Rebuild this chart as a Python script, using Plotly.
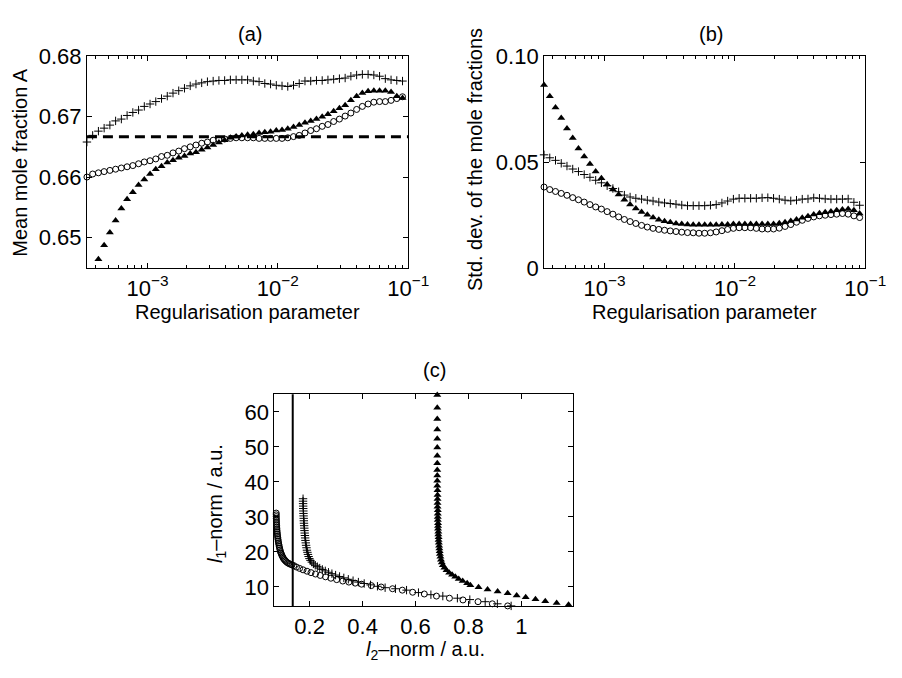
import plotly.graph_objects as go

# ---------------- data ----------------
# log10 of the regularisation parameter grid
LOG_LAMBDA = [-3.464, -3.420, -3.376, -3.332, -3.288, -3.244, -3.200, -3.156, -3.112, -3.068,
              -3.024, -2.980, -2.936, -2.892, -2.848, -2.804, -2.760, -2.716, -2.672, -2.628,
              -2.584, -2.540, -2.496, -2.452, -2.408, -2.364, -2.320, -2.276, -2.232, -2.188,
              -2.144, -2.100, -2.056, -2.012, -1.968, -1.924, -1.880, -1.836, -1.792, -1.748,
              -1.704, -1.660, -1.616, -1.572, -1.528, -1.484, -1.440, -1.396, -1.352, -1.308,
              -1.264, -1.220, -1.176, -1.132, -1.088, -1.044, -1.000]
LAMBDA = [10 ** e for e in LOG_LAMBDA]

TRUE_FRACTION = 2 / 3

# (a) mean mole fraction A
mean_plus = [0.6658, 0.6669, 0.6676, 0.6681, 0.6686, 0.6693, 0.6696, 0.6702, 0.6707, 0.6711,
             0.6717, 0.6721, 0.6725, 0.6730, 0.6734, 0.6739, 0.6743, 0.6747, 0.6751, 0.6754,
             0.6756, 0.6758, 0.6759, 0.6760, 0.6760, 0.6761, 0.6761, 0.6761, 0.6761, 0.6759,
             0.6758, 0.6755, 0.6754, 0.6752, 0.6751, 0.6750, 0.6752, 0.6755, 0.6759, 0.6759,
             0.6760, 0.6760, 0.6761, 0.6762, 0.6763, 0.6764, 0.6767, 0.6769, 0.6770, 0.6770,
             0.6769, 0.6767, 0.6763, 0.6761, 0.6760, 0.6759, 0.6758]
mean_circle = [0.6600, 0.6605, 0.6607, 0.6609, 0.6611, 0.6613, 0.6615, 0.6617, 0.6619, 0.6622,
               0.6625, 0.6627, 0.6630, 0.6634, 0.6636, 0.6640, 0.6643, 0.6647, 0.6650, 0.6653,
               0.6656, 0.6658, 0.6661, 0.6662, 0.6663, 0.6664, 0.6665, 0.6665, 0.6665, 0.6665,
               0.6664, 0.6664, 0.6664, 0.6664, 0.6664, 0.6665, 0.6667, 0.6669, 0.6673, 0.6677,
               0.6680, 0.6684, 0.6687, 0.6692, 0.6696, 0.6701, 0.6706, 0.6712, 0.6717, 0.6721,
               0.6724, 0.6725, 0.6725, 0.6727, 0.6730, 0.6733, 0.6731]
mean_tri = [None, None, 0.6464, 0.6487, 0.6508, 0.6528, 0.6548, 0.6563, 0.6575, 0.6587,
            0.6596, 0.6605, 0.6613, 0.6618, 0.6624, 0.6628, 0.6632, 0.6635, 0.6639, 0.6641,
            0.6645, 0.6649, 0.6653, 0.6657, 0.6661, 0.6665, 0.6667, 0.6669, 0.6670, 0.6671,
            0.6673, 0.6674, 0.6675, 0.6677, 0.6678, 0.6680, 0.6683, 0.6686, 0.6690, 0.6693,
            0.6696, 0.6700, 0.6704, 0.6709, 0.6714, 0.6719, 0.6727, 0.6734, 0.6739, 0.6742,
            0.6743, 0.6743, 0.6743, 0.6741, 0.6734, 0.6731, 0.6722]

# (b) standard deviation of the mole fractions
std_plus = [0.0535, 0.0521, 0.0509, 0.0495, 0.0482, 0.0468, 0.0456, 0.0442, 0.0429, 0.0415,
            0.0403, 0.0389, 0.0376, 0.0361, 0.0345, 0.0336, 0.0330, 0.0326, 0.0321, 0.0317,
            0.0312, 0.0308, 0.0305, 0.0302, 0.0298, 0.0295, 0.0295, 0.0295, 0.0295, 0.0297,
            0.0300, 0.0308, 0.0317, 0.0326, 0.0330, 0.0330, 0.0330, 0.0330, 0.0332, 0.0333,
            0.0330, 0.0326, 0.0321, 0.0318, 0.0321, 0.0326, 0.0327, 0.0332, 0.0330, 0.0327,
            0.0326, 0.0326, 0.0326, 0.0327, 0.0311, 0.0297, 0.0285]
std_circle = [0.0383, 0.0371, 0.0362, 0.0353, 0.0344, 0.0333, 0.0323, 0.0312, 0.0300, 0.0289,
              0.0279, 0.0267, 0.0255, 0.0242, 0.0230, 0.0220, 0.0211, 0.0202, 0.0194, 0.0188,
              0.0183, 0.0179, 0.0176, 0.0173, 0.0170, 0.0168, 0.0167, 0.0165, 0.0165, 0.0167,
              0.0171, 0.0177, 0.0183, 0.0188, 0.0191, 0.0191, 0.0191, 0.0188, 0.0185, 0.0185,
              0.0185, 0.0189, 0.0197, 0.0206, 0.0217, 0.0226, 0.0235, 0.0242, 0.0247, 0.0250,
              0.0253, 0.0255, 0.0258, 0.0255, 0.0247, 0.0239, 0.0224]
std_tri = [0.0864, 0.0811, 0.0758, 0.0709, 0.0659, 0.0614, 0.0565, 0.0527, 0.0492, 0.0456,
           0.0424, 0.0395, 0.0371, 0.0348, 0.0323, 0.0300, 0.0282, 0.0265, 0.0252, 0.0239,
           0.0229, 0.0221, 0.0217, 0.0211, 0.0208, 0.0206, 0.0205, 0.0205, 0.0205, 0.0205,
           0.0205, 0.0206, 0.0206, 0.0208, 0.0208, 0.0208, 0.0208, 0.0208, 0.0208, 0.0209,
           0.0209, 0.0212, 0.0217, 0.0223, 0.0230, 0.0238, 0.0245, 0.0253, 0.0259, 0.0264,
           0.0268, 0.0273, 0.0277, 0.0279, 0.0273, 0.0258, 0.0227]

# (c) L-curves: l2-norm (x) vs l1-norm (y)
lc_circle_x = [0.0736, 0.0737, 0.0738, 0.0740, 0.0742, 0.0745, 0.0748, 0.0752, 0.0756, 0.0761,
               0.0766, 0.0772, 0.0779, 0.0787, 0.0795, 0.0804, 0.0814, 0.0825, 0.0837, 0.0850,
               0.0864, 0.0880, 0.0897, 0.0916, 0.0937, 0.0960, 0.0985, 0.1013, 0.1045, 0.1080,
               0.1120, 0.1165, 0.1215, 0.1270, 0.1330, 0.1400, 0.1500, 0.1620, 0.1750, 0.1900,
               0.2050, 0.2220, 0.2400, 0.2600, 0.2800, 0.3020, 0.3250, 0.3480, 0.3720, 0.3960,
               0.4330, 0.4700, 0.5130, 0.5500, 0.5890, 0.6330, 0.6790, 0.7280, 0.7790, 0.8360,
               0.8900, 0.9480]
lc_circle_y = [31.1, 30.6, 30.1, 29.6, 29.1, 28.6, 28.1, 27.6, 27.1, 26.6,
               26.1, 25.6, 25.1, 24.6, 24.1, 23.6, 23.1, 22.6, 22.1, 21.6,
               21.1, 20.6, 20.1, 19.7, 19.3, 18.9, 18.5, 18.1, 17.8, 17.5,
               17.2, 16.9, 16.7, 16.5, 16.3, 16.1, 15.7, 15.3, 14.9, 14.5,
               14.1, 13.7, 13.3, 12.9, 12.5, 12.1, 11.7, 11.4, 11.1, 10.8,
               10.4, 10.0, 9.5, 9.1, 8.5, 8.0, 7.4, 6.8, 6.3, 5.8,
               5.2, 4.6]
lc_plus_x = [0.1750, 0.1750, 0.1752, 0.1755, 0.1758, 0.1762, 0.1766, 0.1770, 0.1775, 0.1780,
             0.1785, 0.1791, 0.1798, 0.1805, 0.1812, 0.1820, 0.1830, 0.1840, 0.1852, 0.1865,
             0.1880, 0.1897, 0.1915, 0.1935, 0.1960, 0.1990, 0.2030, 0.2080, 0.2140, 0.2210,
             0.2290, 0.2380, 0.2480, 0.2590, 0.2710, 0.2840, 0.2980, 0.3130, 0.3290, 0.3460,
             0.3640, 0.3840, 0.4060, 0.4300, 0.4560, 0.4850, 0.5240, 0.5660, 0.6110, 0.6580,
             0.7030, 0.7580, 0.8050, 0.8630, 0.9090, 0.9610]
lc_plus_y = [35.2, 34.5, 33.8, 33.1, 32.4, 31.7, 31.0, 30.3, 29.6, 28.9,
             28.2, 27.5, 26.8, 26.1, 25.4, 24.7, 24.0, 23.3, 22.6, 21.9,
             21.2, 20.5, 19.9, 19.3, 18.7, 18.1, 17.6, 17.1, 16.6, 16.2,
             15.8, 15.4, 15.0, 14.6, 14.2, 13.8, 13.4, 13.0, 12.6, 12.2,
             11.8, 11.4, 11.0, 10.6, 10.2, 9.8, 9.5, 9.1, 8.4, 7.8,
             7.4, 6.8, 6.4, 5.8, 5.2, 4.6]
lc_tri_x = [0.682, 0.682, 0.682, 0.682, 0.682, 0.682, 0.682, 0.682, 0.682, 0.682,
            0.682, 0.682, 0.683, 0.683, 0.683, 0.683, 0.683, 0.684, 0.684, 0.684,
            0.684, 0.685, 0.685, 0.685, 0.686, 0.686, 0.687, 0.687, 0.688, 0.689,
            0.690, 0.691, 0.692, 0.694, 0.696, 0.699, 0.703, 0.709, 0.717, 0.727,
            0.738, 0.750, 0.763, 0.778, 0.795, 0.807, 0.838, 0.872, 0.910, 0.948,
            0.982, 1.016, 1.053, 1.090, 1.133, 1.178]
lc_tri_y = [64.8, 61.2, 58.0, 55.0, 52.3, 49.8, 47.5, 45.3, 43.4, 41.8,
            40.3, 38.9, 37.6, 36.3, 35.1, 34.0, 32.9, 31.9, 30.9, 30.0,
            29.1, 28.2, 27.4, 26.6, 25.8, 25.0, 24.2, 23.4, 22.6, 21.8,
            21.0, 20.2, 19.4, 18.6, 17.8, 17.0, 16.2, 15.5, 14.8, 14.1,
            13.5, 12.9, 12.3, 11.7, 11.1, 10.5, 9.9, 9.3, 8.7, 8.2,
            7.6, 7.1, 6.5, 5.9, 5.4, 4.9]
L_CURVE_MARK = 0.136

# tick labels
LOG_TICKS = [1e-3, 1e-2, 1e-1]
LOG_TICKTEXT = ["10<sup>\u22123</sup>", "10<sup>\u22122</sup>", "10<sup>\u22121</sup>"]
A_TICKS = [0.65, 0.66, 0.67, 0.68]
A_TICKTEXT = ["0.65", "0.66", "0.67", "0.68"]
B_TICKS = [0, 0.05, 0.10]
B_TICKTEXT = ["0", "0.05", "0.10"]
C_XTICKS = [0.2, 0.4, 0.6, 0.8, 1.0]
C_XTICKTEXT = ["0.2", "0.4", "0.6", "0.8", "1"]
C_YTICKS = [10, 20, 30, 40, 50, 60]

# ---------------- figure ----------------
W, H = 902, 678
FONT = "Liberation Sans, Arial, Helvetica, sans-serif"
BLACK = "#000000"

fig = go.Figure()

plus_m = dict(symbol="cross-thin", size=6, line=dict(color=BLACK, width=1), color=BLACK)
circ_m = dict(symbol="circle-open", size=6, line=dict(color=BLACK, width=1), color=BLACK)
tri_m = dict(symbol="triangle-up", size=7, color=BLACK, line=dict(width=0))


def add(x, y, marker, xa, ya):
    fig.add_trace(go.Scatter(x=x, y=y, mode="markers", marker=marker, xaxis=xa, yaxis=ya,
                             cliponaxis=False, showlegend=False, hoverinfo="skip"))


# (a)
add(LAMBDA, mean_plus, plus_m, "x", "y")
add(LAMBDA, mean_circle, circ_m, "x", "y")
add(LAMBDA, mean_tri, tri_m, "x", "y")
# (b)
add(LAMBDA, std_plus, plus_m, "x2", "y2")
add(LAMBDA, std_circle, circ_m, "x2", "y2")
add(LAMBDA, std_tri, tri_m, "x2", "y2")
# (c)
add(lc_circle_x, lc_circle_y, circ_m, "x3", "y3")
add(lc_plus_x, lc_plus_y, plus_m, "x3", "y3")
add(lc_tri_x, lc_tri_y, tri_m, "x3", "y3")

# dashed reference line in (a), vertical line in (c)
fig.add_shape(type="line", xref="x domain", yref="y", x0=0, x1=1, y0=TRUE_FRACTION, y1=TRUE_FRACTION,
              line=dict(color=BLACK, width=3, dash="10px,6px"), layer="below")
fig.add_shape(type="line", xref="x3", yref="y3 domain", x0=L_CURVE_MARK, x1=L_CURVE_MARK, y0=0, y1=1,
              line=dict(color=BLACK, width=2), layer="above")


def px_dom_x(a, b):
    return [a / W, b / W]


def px_dom_y(top, bottom):
    return [1 - bottom / H, 1 - top / H]


minor_log = [m * 10 ** k for k in (-4, -3, -2) for m in range(2, 10)]

common = dict(showline=True, linecolor=BLACK, linewidth=1, mirror="ticks", ticks="inside",
              ticklen=5, tickcolor=BLACK, tickwidth=1, showgrid=False, zeroline=False,
              tickfont=dict(family=FONT, size=22, color=BLACK))

log_minor = dict(tickvals=minor_log, ticks="inside", ticklen=3, tickcolor=BLACK, showgrid=False)

fig.update_layout(
    width=W, height=H,
    margin=dict(l=0, r=0, t=0, b=0),
    paper_bgcolor="white", plot_bgcolor="white",
    font=dict(family=FONT, size=20, color=BLACK),
    xaxis=dict(domain=px_dom_x(89, 418), type="log", range=[-3.464, -1.0], anchor="y",
               tickvals=LOG_TICKS, ticktext=LOG_TICKTEXT, minor=log_minor,
               ticklabelstandoff=0, **common),
    yaxis=dict(domain=px_dom_y(46, 266), range=[0.6449, 0.68], anchor="x",
               tickvals=A_TICKS, ticktext=A_TICKTEXT, **common),
    xaxis2=dict(domain=px_dom_x(557, 886), type="log", range=[-3.464, -1.0], anchor="y2",
                tickvals=LOG_TICKS, ticktext=LOG_TICKTEXT, minor=log_minor,
                ticklabelstandoff=0, **common),
    yaxis2=dict(domain=px_dom_y(46, 266), range=[0, 0.1], anchor="x2",
                tickvals=B_TICKS, ticktext=B_TICKTEXT, **common),
    xaxis3=dict(domain=px_dom_x(281, 587), range=[0.067, 1.196], anchor="y3",
                tickvals=C_XTICKS, ticktext=C_XTICKTEXT, **common),
    yaxis3=dict(domain=px_dom_y(397, 617), range=[4.5, 65.0], anchor="x3",
                tickvals=C_YTICKS, **common),
)


def label(text, x, y, angle=0, size=20):
    fig.add_annotation(text=text, x=x / W, y=1 - y / H, xref="paper", yref="paper",
                       showarrow=False, textangle=angle, xanchor="center", yanchor="middle",
                       font=dict(family=FONT, size=size, color=BLACK))


label("(a)", 256, 23)
label("(b)", 728, 23)
label("(c)", 445, 372)
label("Regularisation parameter", 253, 311)
label("Regularisation parameter", 721, 311)
label("Mean mole fraction A", 21, 156, angle=-90)
label("Std. dev. of the mole fractions", 487, 153, angle=-90)
label("<i>l</i><sub>1</sub>\u2013norm / a.u.", 221, 510, angle=-90)
label("<i>l</i><sub>2</sub>\u2013norm / a.u.", 436, 663)

fig.write_html("out.html")
